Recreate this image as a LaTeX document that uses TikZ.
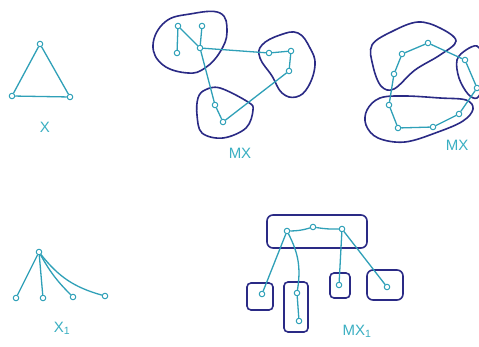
\documentclass[tikz,border=0pt]{standalone}
\usepackage{fontspec}
\setmainfont{Liberation Sans}
\definecolor{edgec}{HTML}{2FA0B8}
\definecolor{blobc}{HTML}{2A2A85}
\definecolor{labc}{HTML}{3AAFC2}
\begin{document}
\begin{tikzpicture}[x=1pt,y=-1pt,
  v/.style={circle,draw=edgec,line width=1pt,fill=white,inner sep=0pt,minimum size=5.5pt},
  ed/.style={draw=edgec,line width=1.3pt},
  blob/.style={draw=blobc,line width=1.6pt},
  lab/.style={text=labc,font=\fontsize{15}{15}\selectfont,inner sep=0pt}]
\useasboundingbox (0,0) rectangle (479,347);
\fill[white] (0,0) rectangle (479,347);

% ---------- X ----------
\node[v] (t1) at (40,44) {};
\node[v] (t2) at (12,96) {};
\node[v] (t3) at (70,97) {};
\draw[ed] (t1) -- (t2);
\draw[ed] (t1) -- (t3);
\draw[ed] (t2) -- (t3);
\node[lab] (lx) at (45,127) {X};

% ---------- MX (middle) ----------
\draw[blob] plot[smooth cycle,tension=0.7] coordinates {(153,45) (165,22) (190,14) (220,13) (227,32) (220,52) (205,68) (188,73) (163,65)};
\draw[blob] plot[smooth cycle,tension=0.7] coordinates {(262,45) (280,35) (298,33) (310,48) (315,65) (308,87) (296,97) (282,93) (272,76) (260,58)};
\draw[blob] plot[smooth cycle,tension=0.6] coordinates {(198,98) (205,90) (220,88) (248,102) (253,110) (246,128) (223,138) (202,133) (197,115)};
\node[v] (a1) at (178,26) {};
\node[v] (a2) at (202,26) {};
\node[v] (a3) at (177,53) {};
\node[v] (a4) at (200,48) {};
\node[v] (b1) at (269,53) {};
\node[v] (b2) at (291,51) {};
\node[v] (b3) at (289,71) {};
\node[v] (c1) at (215,105) {};
\node[v] (c2) at (223,122) {};
\draw[ed] (a1) -- (a3);
\draw[ed] (a1) -- (a4);
\draw[ed] (a2) -- (a4);
\draw[ed] (a4) -- (b1);
\draw[ed] (b1) -- (b2);
\draw[ed] (b2) -- (b3);
\draw[ed] (b3) -- (c2);
\draw[ed] (a4) -- (c1);
\draw[ed] (c1) -- (c2);
\node[lab] (lmx) at (240,153) {MX};

% ---------- MX (right) ----------
\draw[blob] plot[smooth cycle,tension=0.6] coordinates {(372,45) (393,31) (418,22) (440,28) (456,41) (440,55) (415,70) (394,89) (381,86) (373,66)};
\draw[blob] plot[smooth cycle,tension=0.6] coordinates {(457,60) (466,50) (477,46) (482,56) (482,86) (477,98) (468,94) (459,78)};
\draw[blob] plot[smooth cycle,tension=0.6] coordinates {(367,110) (380,98) (405,96) (440,98) (466,100) (473,109) (463,121) (438,132) (405,142) (378,138) (366,125)};
\node[v] (d1) at (428,43) {};
\node[v] (d2) at (402,54) {};
\node[v] (d3) at (394,74) {};
\node[v] (d4) at (389,105) {};
\node[v] (d5) at (398,128) {};
\node[v] (d6) at (433,127) {};
\node[v] (d7) at (459,114) {};
\node[v] (d8) at (477,88) {};
\node[v] (d9) at (465,60) {};
\draw[ed] (d1) -- (d2) -- (d3) -- (d4) -- (d5) -- (d6) -- (d7) -- (d8) -- (d9) -- (d1);
\node[lab] (lmx2) at (457,145) {MX};

% ---------- X_1 ----------
\node[v] (r) at (39,252) {};
\node[v] (l1) at (16,298) {};
\node[v] (l2) at (43,298) {};
\node[v] (l3) at (73,297) {};
\node[v] (l4) at (105,296) {};
\draw[ed] (r) -- (l1);
\draw[ed] (r) -- (l2);
\draw[ed] (r) to[bend right=8] (l3);
\draw[ed] (r) to[bend right=18] (l4);
\node[lab] (lx1) at (62,328) {X\textsubscript{1}};

% ---------- MX_1 ----------
\draw[blob,rounded corners=6pt] (267,215) rectangle (367,248);
\draw[blob,rounded corners=4pt] (247,283) rectangle (273,310);
\draw[blob,rounded corners=4pt] (284,282) rectangle (308,332);
\draw[blob,rounded corners=4pt] (330,273) rectangle (350,298);
\draw[blob,rounded corners=6pt] (367,270) rectangle (403,300);
\node[v] (e1) at (287,231) {};
\node[v] (e2) at (313,227) {};
\node[v] (e3) at (342,229) {};
\node[v] (f1) at (262,294) {};
\node[v] (g1) at (297,293) {};
\node[v] (g2) at (299,321) {};
\node[v] (h1) at (339,285) {};
\node[v] (k1) at (387,287) {};
\draw[ed] (e1) to[bend right=8] (e2);
\draw[ed] (e2) to[bend right=5] (e3);
\draw[ed] (e1) -- (f1);
\draw[ed] (e1) to[bend left=18] (g1);
\draw[ed] (g1) -- (g2);
\draw[ed] (e3) -- (h1);
\draw[ed] (e3) -- (k1);
\node[lab] (lmx1) at (357,331) {MX\textsubscript{1}};
\end{tikzpicture}
\end{document}
